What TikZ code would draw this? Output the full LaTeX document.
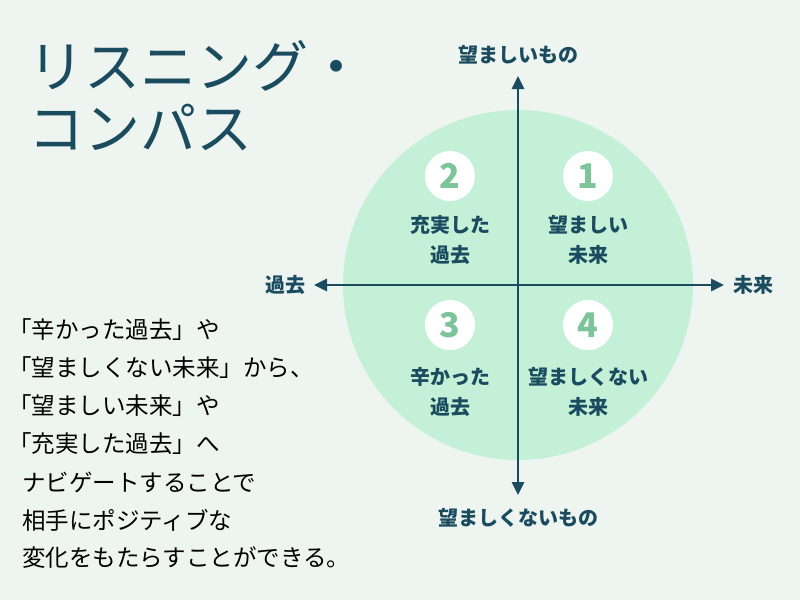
\documentclass[tikz,border=0pt]{standalone}
\usepackage{fontspec}
\setmainfont{Noto Sans CJK JP}
\usetikzlibrary{arrows.meta}
\definecolor{bg}{HTML}{EEF5F1}
\definecolor{circ}{HTML}{C4F0D8}
\definecolor{ax}{HTML}{1B4B5E}
\definecolor{num}{HTML}{7CC49A}
\tikzset{axl/.style={draw=ax,line width=2.8pt,-{Triangle[length=13pt,width=12pt]}},
lab/.style={text=ax,font=\fontsize{20}{20}\selectfont\bfseries},
qt/.style={text=ax,font=\fontsize{20}{30}\selectfont\bfseries,align=center},
nb/.style={circle,fill=white,minimum size=50pt,inner sep=0pt,text=num,font=\fontsize{34}{34}\selectfont\bfseries},
bt/.style={anchor=west,inner sep=0pt,font=\fontsize{23.5}{23.5}\selectfont,text=black}}
\begin{document}
\begin{tikzpicture}[x=1pt,y=-1pt]
\fill[bg] (0,0) rectangle (800,600);
\useasboundingbox (0,0) rectangle (800,600);
\fill[circ] (518,285) circle (175);
\coordinate (c) at (518,285);
\coordinate (l) at (314,285);\coordinate (r) at (724,285);
\coordinate (t) at (518,76);\coordinate (b) at (518,495);
\draw[axl] (c) -- (r); \draw[axl] (c) -- (l);
\draw[axl] (c) -- (t); \draw[axl] (c) -- (b);
\node[lab] (nt) at (518,55) {望ましいもの};
\node[lab] (nb2) at (518,518) {望ましくないもの};
\node[lab] (nl) at (285,285) {過去};
\node[lab] (nr) at (753,285) {未来};
\node[nb] (n1) at (588,176) {1};
\node[nb] (n2) at (450,176) {2};
\node[nb] (n3) at (450,325) {3};
\node[nb] (n4) at (588,325) {4};
\node[qt] (q1) at (588,240) {望ましい\\未来};
\node[qt] (q2) at (450,240) {充実した\\過去};
\node[qt] (q3) at (450,392) {辛かった\\過去};
\node[qt] (q4) at (588,392) {望ましくない\\未来};
\node[anchor=west,text=ax,font=\fontsize{56}{56}\selectfont,inner sep=0pt] (t1) at (28,66) {リスニング・};
\node[anchor=west,text=ax,font=\fontsize{56}{56}\selectfont,inner sep=0pt] (t2) at (28,128) {コンパス};
\node[bt] (b1) at (8,330) {「辛かった過去」や};
\node[bt] (b2) at (8,368) {「望ましくない未来」から、};
\node[bt] (b3) at (8,406) {「望ましい未来」や};
\node[bt] (b4) at (8,444) {「充実した過去」へ};
\node[bt] (b5) at (22,482) {ナビゲートすることで};
\node[bt] (b6) at (22,520) {相手にポジティブな};
\node[bt] (b7) at (22,558) {変化をもたらすことができる。};
\end{tikzpicture}
\end{document}
